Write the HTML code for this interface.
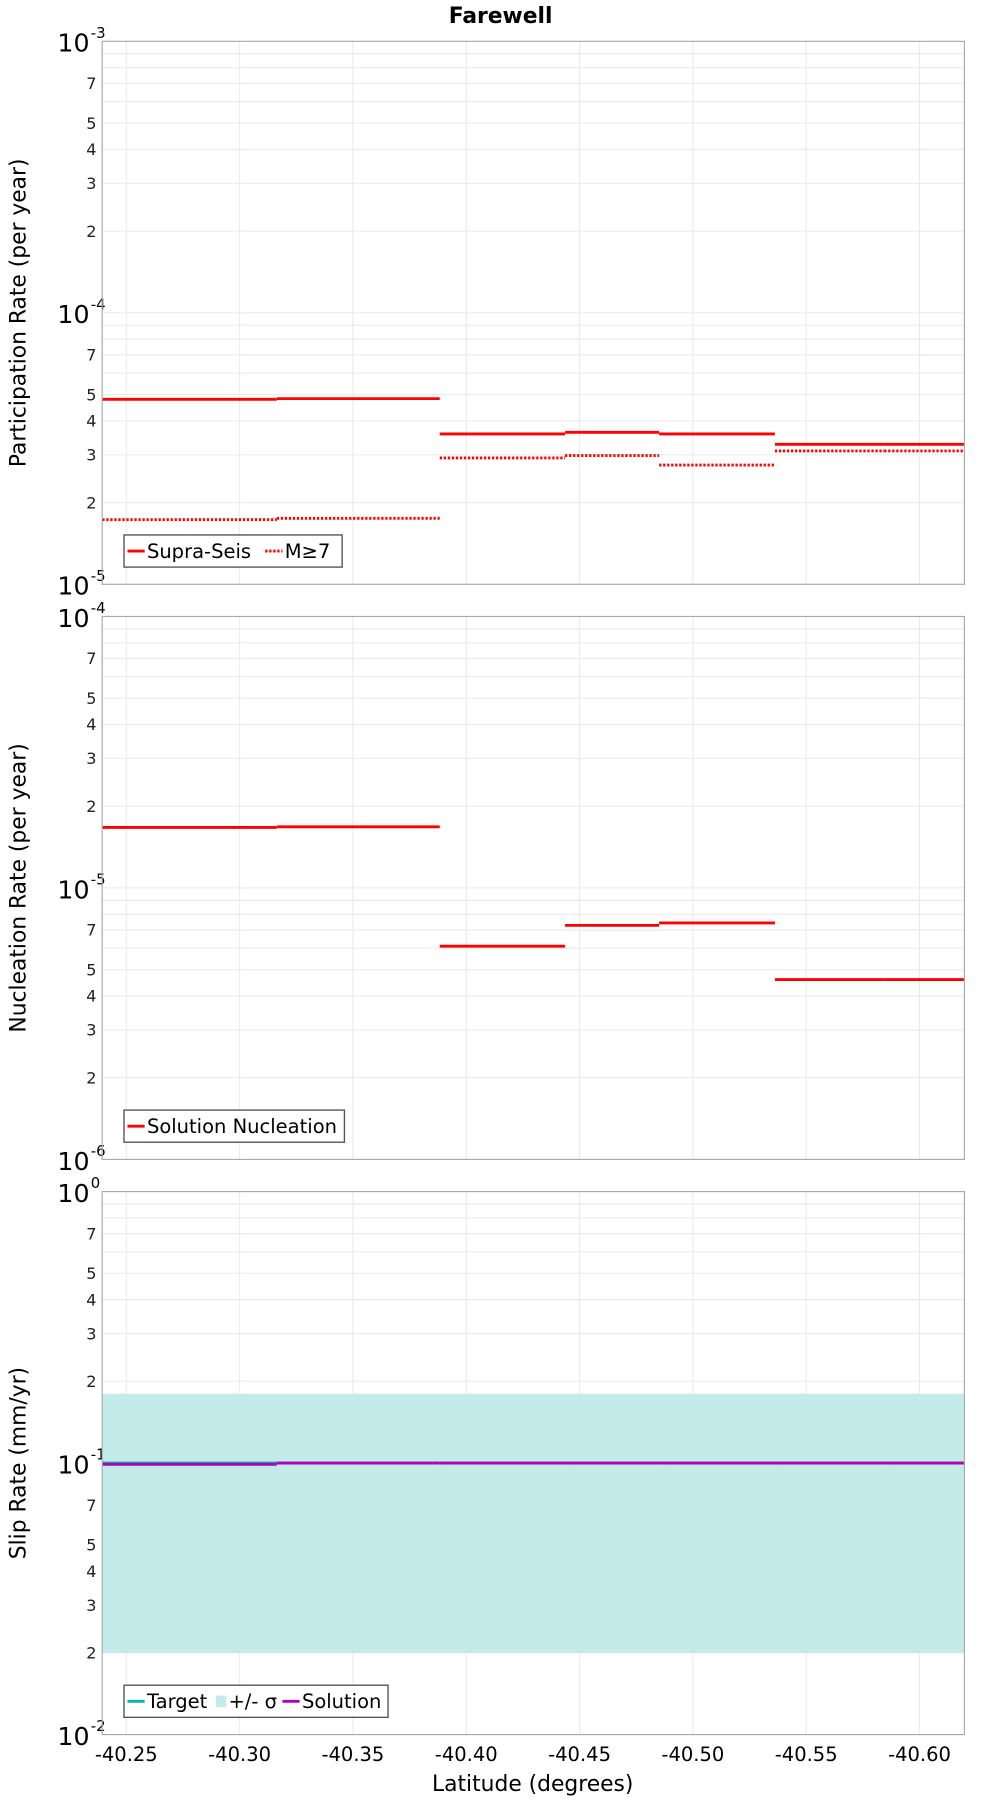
<!DOCTYPE html>
<html><head><meta charset="utf-8">
<style>
html,body{margin:0;padding:0;background:#fff;}
svg{display:block;font-family:"DejaVu Sans","Liberation Sans",sans-serif;}
</style></head>
<body>
<svg id="chart" width="1000" height="1800" viewBox="0 0 871 1568" preserveAspectRatio="none" xmlns="http://www.w3.org/2000/svg">
<text x="436" y="20" text-anchor="middle" font-size="19" font-weight="bold">Farewell</text>
</svg>
<script>
// Segment boundaries (latitude)
const segEdges = [-40.2394, -40.3164, -40.3883, -40.4436, -40.4851, -40.5362, -40.5844, -40.6198];
const xTicks = [-40.25, -40.30, -40.35, -40.40, -40.45, -40.50, -40.55, -40.60];
const xTickLabels = ["-40.25","-40.30","-40.35","-40.40","-40.45","-40.50","-40.55","-40.60"];
// Panel 1
const supraSeis = [4.80e-5, 4.83e-5, 3.58e-5, 3.63e-5, 3.58e-5, 3.28e-5, 3.28e-5];
const m7 = [1.73e-5, 1.75e-5, 2.92e-5, 2.98e-5, 2.75e-5, 3.10e-5, 3.10e-5];
// Panel 2
const nucleation = [1.67e-5, 1.68e-5, 6.1e-6, 7.28e-6, 7.43e-6, 4.6e-6, 4.6e-6];
// Panel 3
const target = [0.1, 0.1, 0.1, 0.1, 0.1, 0.1, 0.1];
const sigmaLow = [0.02, 0.02, 0.02, 0.02, 0.02, 0.02, 0.02];
const sigmaHigh = [0.18, 0.18, 0.18, 0.18, 0.18, 0.18, 0.18];
const solution = [0.099, 0.1, 0.1, 0.1, 0.1, 0.1, 0.1];

const NS = "http://www.w3.org/2000/svg";
const svg = document.getElementById('chart');
const L = 89, R = 840;
function xs(v){ return 110 + (-40.25 - v) * 1974; }
function mk(tag, attrs, parent){
  const e = document.createElementNS(NS, tag);
  for (const k in attrs) e.setAttribute(k, attrs[k]);
  (parent || svg).appendChild(e);
  return e;
}
function panel(top, bottom, maxExp, ytitle, name){
  const g = mk('g', {});
  
  
  const h = bottom - top;
  const ys = v => top + (maxExp - Math.log10(v)) / 2 * h;
  // grid
  for (let d = maxExp - 2; d < maxExp; d++) {
    for (let m = 2; m <= 9; m++) {
      const y = ys(m * Math.pow(10, d));
      const gl = mk('line', {x1:L, x2:R, y1:y, y2:y, stroke:'#ebebeb', 'stroke-width':1}, g);
      
      
      if ([2,3,4,5,7].includes(m)) {
        const t = mk('text', {x:84, y:y+5, 'text-anchor':'end', 'font-size':14, fill:'#222'}, g);
        t.textContent = m;
        
        
      }
    }
    const y = ys(Math.pow(10, d));
    const gl = mk('line', {x1:L, x2:R, y1:y, y2:y, stroke:'#ebebeb', 'stroke-width':1}, g);
    
    
  }
  for (const v of xTicks) {
    const x = xs(v);
    const gl = mk('line', {x1:x, x2:x, y1:top, y2:bottom, stroke:'#ebebeb', 'stroke-width':1}, g);
    
    
  }
  // decade labels
  for (let d = maxExp - 2; d <= maxExp; d++) {
    const y = ys(Math.pow(10, d));
    const t = mk('text', {x:78, y:y+9, 'text-anchor':'end', 'font-size':22, fill:'#000'}, g);
    t.textContent = '10';
    
    
    const s = mk('text', {x:79, y:y-3, 'text-anchor':'start', 'font-size':13, fill:'#000'}, g);
    s.textContent = String(d).replace('-', '-');
    
    
  }
  const yt = mk('text', {x:0, y:0, 'text-anchor':'middle', 'font-size':19, transform:`translate(22,${(top+bottom)/2}) rotate(-90)`}, g);
  yt.textContent = ytitle;
  
  
  return {g, ys, top, bottom};
}
function steps(p, vals, color, dash, name){
  for (let i = 0; i < vals.length; i++) {
    const y = p.ys(vals[i]);
    const a = {x1:xs(segEdges[i]), x2:xs(segEdges[i+1]), y1:y, y2:y, stroke:color, 'stroke-width':2.5};
    if (dash) a['stroke-dasharray'] = '2,1.5';
    const l = mk('line', a, p.g);
    
    
  }
}
function frame(p){
  const r = mk('rect', {x:L, y:p.top, width:R-L, height:p.bottom-p.top, fill:'none', stroke:'#aaa', 'stroke-width':1}, p.g);
  
  
}
function legend(p, x, w, items, name){
  const y = p.bottom - 43;
  const lg = mk('g', {}, p.g);
  
  
  mk('rect', {x:x, y:y, width:w, height:28, fill:'#fff', stroke:'#555', 'stroke-width':1.2}, lg);
  let cx = x + 3;
  for (const it of items) {
    if (it.box) mk('rect', {x:cx, y:y+9, width:9, height:10, fill:it.color}, lg);
    else mk('line', {x1:cx, x2:cx+15, y1:y+14, y2:y+14, stroke:it.color, 'stroke-width':2.5, 'stroke-dasharray':it.dash||'none'}, lg);
    cx += it.box ? 11 : 17;
    const t = mk('text', {x:cx, y:y+20, 'font-size':17, fill:'#000'}, lg);
    t.textContent = it.label;
    
    
    cx += it.w;
  }
}
// Panel 1
const p1 = panel(36, 509, -3, 'Participation Rate (per year)', 'participation-panel');
steps(p1, supraSeis, '#ff0000', false, 'supra-seis');
steps(p1, m7, '#ff0000', true, 'm7');
frame(p1);
legend(p1, 108, 190, [{color:'#ff0000', label:'Supra-Seis', w:103},{color:'#ff0000', dash:'2,1.5', label:'M≥7', w:40}], 'participation-legend');
// Panel 2
const p2 = panel(537, 1010, -4, 'Nucleation Rate (per year)', 'nucleation-panel');
steps(p2, nucleation, '#ff0000', false, 'nucleation');
frame(p2);
legend(p2, 108, 192, [{color:'#ff0000', label:'Solution Nucleation', w:170}], 'nucleation-legend');
// Panel 3
const p3 = panel(1038, 1511, 0, 'Slip Rate (mm/yr)', 'slip-panel');
for (let i = 0; i < sigmaLow.length; i++) {
  const y1 = p3.ys(sigmaHigh[i]), y2 = p3.ys(sigmaLow[i]);
  const x1 = xs(segEdges[i]), x2 = xs(segEdges[i+1]);
  const r = mk('rect', {x:x1, y:y1, width:x2-x1+0.5, height:y2-y1, fill:'#c2ebe9'}, p3.g);
  
  
}
steps(p3, target, '#00b0b0', false, 'target');
steps(p3, solution, '#b000c0', false, 'solution');
frame(p3);
legend(p3, 108, 230, [{color:'#00b5b5', label:'Target', w:60},{color:'#c2ebe9', box:true, label:'+/- σ', w:47},{color:'#b000c0', label:'Solution', w:80}], 'slip-legend');
// x ticks
for (let i = 0; i < xTicks.length; i++) {
  const t = mk('text', {x:xs(xTicks[i]), y:1534, 'text-anchor':'middle', 'font-size':17});
  t.textContent = xTickLabels[i];
  
  
}
const xt = mk('text', {x:464, y:1560, 'text-anchor':'middle', 'font-size':19});
xt.textContent = 'Latitude (degrees)';


</script>
</body></html>
